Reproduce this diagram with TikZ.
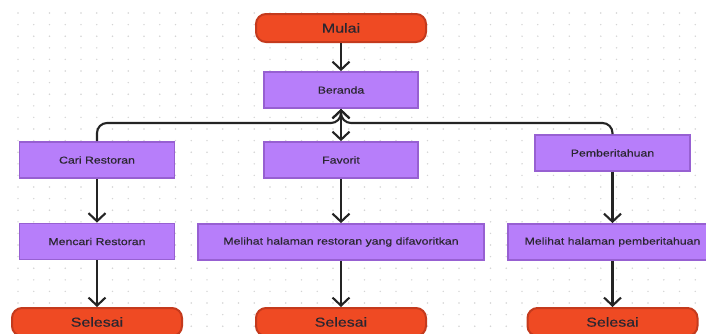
\documentclass[tikz,border=0pt]{standalone}
\usepackage{fontspec}
\newfontfamily\diafont[FakeStretch=1.23,FakeBold=0.35]{Liberation Sans}
\usetikzlibrary{arrows.meta}
\definecolor{redfill}{HTML}{EF4A23}
\definecolor{redline}{HTML}{C43A1D}
\definecolor{purfill}{HTML}{B77EFA}
\definecolor{purline}{HTML}{9760D2}
\definecolor{lnk}{HTML}{242424}
\definecolor{dotc}{HTML}{D4D4D4}
\definecolor{txt}{HTML}{2A2630}
\tikzset{
  terminal/.style={draw=redline, fill=redfill, line width=2pt, rounded corners=10pt,
    minimum width=170pt, minimum height=28pt, inner sep=0pt,
    font=\diafont\fontsize{13}{15}\selectfont, text=txt},
  stepbox/.style={draw=purline, fill=purfill, line width=1.8pt,
    minimum height=36pt, inner sep=0pt,
    font=\diafont\fontsize{10}{12}\selectfont, text=txt},
  conn/.style={draw=lnk, line width=2.1pt, line join=round},
  arr/.style={conn, -{Straight Barb[length=8pt,width=17pt,line width=2.1pt]}}
}
\begin{document}
\begin{tikzpicture}[x=1pt,y=-1pt]
\useasboundingbox (0,0) rectangle (706,333);
\clip (0,0) rectangle (706,333);
\fill[white] (0,0) rectangle (706,333);
\foreach \i in {0,...,44}{
  \foreach \j in {0,...,27}{
    \fill[dotc] ({18+\i*15.75},{13+\j*11.6}) circle (0.8pt);
  }
}
% nodes
\node[terminal] (mulai) at (341,28) {Mulai};
\node[stepbox, minimum width=154pt] (beranda) at (341,90) {Beranda};
\node[stepbox, minimum width=155pt] (cari) at (97,160) {Cari Restoran};
\node[stepbox, minimum width=154pt] (favorit) at (341,160) {Favorit};
\node[stepbox, minimum width=155pt] (pember) at (612.5,153) {Pemberitahuan};
\node[stepbox, minimum width=155pt] (mencari) at (97,241.5) {Mencari Restoran};
\node[stepbox, minimum width=286pt] (lihatfav) at (341,242) {Melihat halaman restoran yang difavoritkan};
\node[stepbox, minimum width=209pt] (lihatpem) at (612.5,242) {Melihat halaman pemberitahuan};
\node[terminal] (sel1) at (97,322) {Selesai};
\node[terminal] (sel2) at (341,322) {Selesai};
\node[terminal] (sel3) at (612.5,322) {Selesai};
\coordinate (junc) at (341,123);
% connectors
\draw[arr] (mulai.south) -- (beranda.north);
\draw[arr] (beranda.south) -- (favorit.north);
\draw[arr, rounded corners=10pt] (cari.north) |- (junc) -- (beranda.south);
\draw[arr, rounded corners=10pt] (pember.north) |- (junc) -- (beranda.south);
\draw[arr] (cari.south) -- (mencari.north);
\draw[arr] (mencari.south) -- (sel1.north);
\draw[arr] (favorit.south) -- (lihatfav.north);
\draw[arr] (lihatfav.south) -- (sel2.north);
\draw[arr] (pember.south) -- (lihatpem.north);
\draw[arr] (lihatpem.south) -- (sel3.north);
\end{tikzpicture}
\end{document}
